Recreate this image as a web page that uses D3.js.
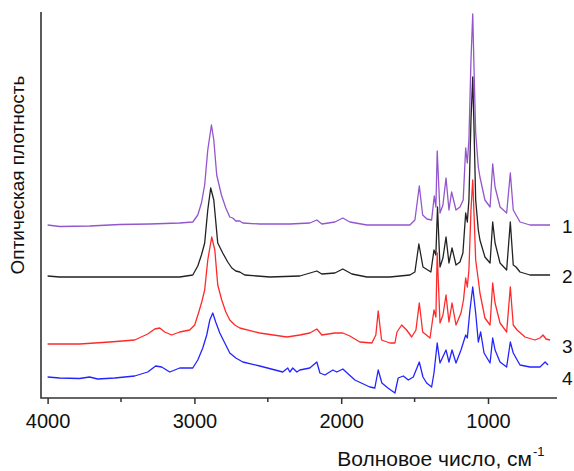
<!DOCTYPE html>
<html>
<head>
<meta charset="utf-8">
<script src="https://cdn.jsdelivr.net/npm/d3@7"></script>
<style>
    body { margin: 0; background: #fff; }
    svg { display: block; font-family: "Liberation Sans", Arial, sans-serif; }
</style>
</head>
<body>
<div id="chart"></div>
<script>
// Spectres IR : [nombre d'onde (cm-1), densité optique (u.a.)]
const spectrum1 = [
    [4000, 173], [3918, 171.5], [3714, 172], [3509, 173.5], [3305, 174], [3100, 175], [3011, 176],
    [2977, 183], [2952, 195], [2930, 213], [2909, 248], [2884, 273], [2868, 258], [2848, 223],
    [2816, 203], [2786, 190], [2759, 181], [2739, 180], [2718, 177], [2691, 177], [2670, 175],
    [2555, 174], [2350, 174], [2214, 175], [2166, 178], [2132, 174], [2043, 176], [1989, 180],
    [1941, 176], [1825, 173], [1668, 173], [1532, 173], [1498, 178], [1468, 212], [1445, 183],
    [1416, 179], [1384, 178], [1366, 202], [1355, 191], [1346, 247], [1327, 185], [1307, 193],
    [1286, 220], [1266, 188], [1248, 206], [1218, 188], [1191, 191], [1169, 198], [1152, 250],
    [1141, 235], [1130, 258], [1116, 338], [1104, 384], [1095, 328], [1084, 265], [1066, 231],
    [1055, 221], [1021, 198], [986, 191], [968, 234], [952, 211], [918, 191], [873, 185],
    [848, 225], [828, 188], [782, 176], [714, 173], [577, 173]
];
const spectrum2 = [
    [4000, 122], [3918, 121], [3714, 121], [3509, 121], [3305, 121], [3100, 121], [3011, 123],
    [2977, 132], [2952, 143], [2930, 155], [2909, 188], [2889, 210], [2868, 198], [2841, 155],
    [2807, 145], [2773, 136], [2745, 130], [2718, 127], [2691, 126], [2657, 123], [2486, 121],
    [2282, 122], [2166, 127], [2132, 124], [2043, 125], [1989, 129], [1927, 124], [1825, 121],
    [1668, 121], [1532, 123], [1498, 126], [1471, 154], [1443, 131], [1389, 126], [1368, 148],
    [1355, 143], [1344, 191], [1327, 131], [1307, 140], [1286, 161], [1266, 135], [1245, 150],
    [1218, 133], [1191, 136], [1171, 145], [1152, 185], [1141, 176], [1130, 198], [1116, 278],
    [1104, 321], [1095, 268], [1084, 198], [1066, 168], [1055, 158], [1021, 141], [986, 135],
    [968, 176], [952, 155], [918, 135], [873, 128], [848, 176], [828, 133], [809, 131],
    [782, 126], [714, 123], [577, 123]
];
const spectrum3 = [
    [4000, 54], [3782, 54], [3577, 56], [3407, 58], [3318, 64], [3270, 69], [3236, 70],
    [3202, 66], [3155, 63], [3100, 66], [3032, 68], [2998, 73], [2970, 86], [2950, 96],
    [2930, 108], [2909, 138], [2882, 161], [2861, 148], [2841, 113], [2814, 98], [2786, 86],
    [2759, 78], [2725, 73], [2691, 70], [2555, 65], [2370, 61], [2282, 63], [2214, 65],
    [2166, 69], [2132, 63], [2043, 65], [1989, 65], [1941, 62], [1873, 56], [1791, 55],
    [1764, 63], [1748, 87], [1725, 58], [1668, 55], [1634, 55], [1620, 66], [1588, 73],
    [1554, 68], [1520, 61], [1491, 68], [1468, 95], [1445, 66], [1395, 60], [1368, 88],
    [1355, 81], [1346, 145], [1327, 75], [1307, 83], [1286, 103], [1266, 76], [1245, 95],
    [1218, 73], [1184, 85], [1167, 98], [1152, 120], [1141, 111], [1130, 128], [1116, 188],
    [1104, 218], [1095, 183], [1084, 138], [1066, 118], [1055, 105], [1021, 80], [986, 73],
    [968, 115], [952, 95], [918, 75], [873, 66], [848, 111], [828, 73], [802, 68],
    [748, 61], [680, 58], [646, 60], [625, 63], [605, 59], [577, 58]
];
const spectrum4 = [
    [4000, 21], [3918, 20], [3782, 19.5], [3714, 21], [3659, 19], [3543, 20], [3407, 22],
    [3318, 26], [3264, 32], [3223, 31], [3168, 26], [3100, 30], [3011, 30], [2977, 38],
    [2943, 50], [2916, 63], [2895, 78], [2875, 85], [2855, 76], [2827, 65], [2793, 55],
    [2759, 45], [2718, 40], [2670, 36], [2555, 32], [2398, 26], [2364, 30], [2350, 26],
    [2330, 30], [2302, 26], [2282, 28], [2214, 30], [2166, 36], [2145, 25], [2111, 23],
    [2057, 28], [2030, 26], [1989, 29], [1907, 18], [1805, 11], [1771, 10], [1748, 28],
    [1723, 15], [1682, 10], [1634, 5], [1612, 20], [1577, 22], [1543, 18], [1509, 21],
    [1468, 36], [1443, 21], [1418, 15], [1384, 11], [1368, 25], [1346, 55], [1327, 35],
    [1286, 48], [1266, 36], [1245, 48], [1218, 35], [1184, 48], [1152, 63], [1141, 60],
    [1123, 88], [1104, 111], [1084, 85], [1066, 56], [1050, 66], [1027, 45], [986, 35],
    [968, 60], [952, 48], [918, 36], [873, 31], [848, 56], [828, 45], [809, 40],
    [782, 33], [714, 31], [646, 31], [611, 36], [591, 33]
];

const seriesNames = ["1", "2", "3", "4"];
const seriesColors = ["#9356cc", "#222222", "#ff2a2a", "#2424ff"];
const seriesData = [spectrum1, spectrum2, spectrum3, spectrum4];
const majorTicks = [4000, 3000, 2000, 1000];
const minorTicks = [3500, 2500, 1500];

const width = 574, height = 471;
const plot = { left: 41, right: 557, top: 12, bottom: 398 };

const svg = d3.select("#chart").append("svg")
    .attr("width", width)
    .attr("height", height);

const x = d3.scaleLinear().domain([4045, 530]).range([plot.left, plot.right]);
const y = d3.scaleLinear().domain([0, 386]).range([plot.bottom, plot.top]);

const line = d3.line()
    .x(d => x(d[0]))
    .y(d => y(d[1]));

// Courbes
seriesData.forEach((data, i) => {
    svg.append("path")
        .datum(data)
        .attr("fill", "none")
        .attr("stroke", seriesColors[i])
        .attr("stroke-width", 1.3)
        .attr("stroke-linejoin", "round")
        .attr("d", line);

    const last = data[data.length - 1];
    svg.append("text")
        .attr("x", 562)
        .attr("y", y(last[1]) + 8 + (i === 2 ? 5 : 0) + (i === 3 ? 12 : 0))
        .style("font-size", "19px")
        .attr("fill", "#111")
        .text(seriesNames[i]);
});

// Axes
const xAxis = d3.axisBottom(x)
    .tickValues(majorTicks)
    .tickSize(6)
    .tickPadding(10)
    .tickFormat(d3.format("d"));

const gx = svg.append("g")
    .attr("transform", `translate(0,${plot.bottom})`)
    .call(xAxis);
gx.select(".domain").remove();
gx.selectAll(".tick line").attr("stroke", "#333").attr("stroke-width", 1.5);
gx.selectAll(".tick text")
    .style("font-size", "20px")
    .style("font-family", "'Liberation Sans', Arial, sans-serif")
    .attr("fill", "#111");

gx.selectAll(".minor")
    .data(minorTicks)
    .enter()
    .append("line")
    .attr("x1", d => x(d))
    .attr("x2", d => x(d))
    .attr("y1", 0)
    .attr("y2", 4)
    .attr("stroke", "#333")
    .attr("stroke-width", 1.5);

svg.append("path")
    .attr("d", `M${plot.left},${plot.top}V${plot.bottom}H${plot.right}`)
    .attr("fill", "none")
    .attr("stroke", "#333")
    .attr("stroke-width", 1.6);

// Titres
svg.append("text")
    .attr("x", 532)
    .attr("y", 466)
    .attr("text-anchor", "end")
    .style("font-size", "21px")
    .attr("fill", "#111")
    .text("Волновое число, см");
svg.append("text")
    .attr("x", 533)
    .attr("y", 456)
    .style("font-size", "13px")
    .attr("fill", "#111")
    .text("-1");

svg.append("text")
    .attr("transform", "translate(24,175) rotate(-90)")
    .attr("text-anchor", "middle")
    .style("font-size", "19px")
    .attr("fill", "#111")
    .text("Оптическая плотность");
</script>
</body>
</html>
